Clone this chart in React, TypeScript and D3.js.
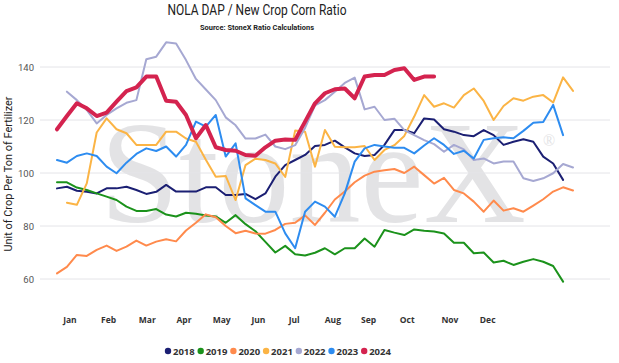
import { scaleLinear, line as d3_line, curveLinear } from "d3";

// weekly observations, index = week of the year (null = no reading yet)
const s2018 = [94.2, 94.8, 93.3, 92.9, 92.3, 94.2, 94.2, 94.8, 93.6, 92.1, 92.9, 95.5, 93, 93, 93, 94.6, 94.6, 91.7, 91.7, 92.1, 90.1, 92.3, 98.6, 103, 104.9, 106.8, 110.2, 110.6, 112.2, 109.7, 107.4, 106.4, 106.8, 110.6, 116.2, 116.2, 115, 120.6, 120.2, 116.5, 115.6, 114.3, 113.9, 116.2, 114.3, 110.6, 111.8, 112.7, 111.8, 106.2, 103.6, 97.4];
const s2019 = [96.5, 96.5, 94.5, 93.6, 92.3, 91.1, 89.8, 87.3, 85.7, 85.7, 86.4, 84.3, 83.6, 85, 84.6, 84, 83.6, 81.2, 84.1, 80.7, 78, 74, 70, 72.5, 69.3, 68.9, 69.9, 71.6, 69.3, 71.6, 71.6, 75.3, 72.2, 78.5, 77.5, 76.6, 78.7, 78.2, 77.9, 77.2, 73.7, 73.7, 69.7, 70, 66.2, 66.9, 65.3, 66.5, 67.5, 66.5, 64.9, 59];
const s2020 = [62.1, 64.6, 69.1, 68.7, 71, 72.6, 70.6, 72.2, 74.5, 72.6, 74.1, 75, 74.2, 78.3, 81.2, 84.4, 83.3, 80, 77.3, 78.2, 77.2, 77.1, 78.5, 80.8, 81.2, 84, 80.4, 85, 90, 93, 96.5, 99, 100.5, 101, 101.5, 100, 102.4, 99.2, 96, 98.2, 93.6, 92.3, 89.2, 85.4, 89.6, 85.8, 86.7, 85.4, 87.7, 90.1, 93, 94.6, 93.4];
const s2021 = [null, 88.8, 88, 96.1, 115.3, 120.6, 116.5, 115, 110.6, 110.6, 110.6, 115.6, 115.6, 113, 111.8, 105, 98.6, 98.9, 89.8, 103, 105.4, 104.9, 103.6, 98.5, 116, 115.6, 102.4, 116.2, 109.9, 109.7, 109.7, 110.2, 104.9, 108.7, 110.5, 114, 121.3, 129.4, 125, 126.3, 124.7, 129.4, 131.9, 127.2, 120, 125.3, 128.2, 127.3, 128.8, 129.4, 126.6, 136.1, 131];
const s2022 = [null, 130.7, 127.5, 123.8, 118.7, 121.9, 124.4, 126.5, 127.5, 142.9, 143.9, 149.3, 148.9, 142.6, 135.5, 131.5, 127.5, 121, 118, 113, 113, 114.5, 110, 109, 110.5, 117, 125.5, 127.5, 130.7, 134, 136, 124, 125, 120, 120.5, 116.2, 114.3, 112.4, 110.9, 108, 110.6, 108.9, 104.9, 105.5, 103.6, 104.3, 104.3, 98, 97, 98, 99.9, 103.4, 102.1];
const s2023 = [104.9, 103.9, 106.4, 107.4, 106.4, 102.4, 99.9, 103.9, 107.2, 109.3, 108.3, 110, 106.2, 110.6, 119.4, 117.5, 121.9, 106.2, 111.2, 90.4, 87.9, 85.4, 85.4, 77.2, 71.6, 85.4, 89.2, 87.3, 83.5, 92.3, 104.3, 109.3, 110.6, 110, 109.5, 109.5, 107.4, 110.4, 113.1, 110.6, 107.2, 108.4, 105.5, 112.5, 113.1, 113.5, 113.1, 115.9, 119, 119.2, 125.7, 114.3];
const s2024 = [116.5, 121.5, 126.3, 124.4, 121.5, 122.8, 126.9, 130.9, 132.3, 136.4, 136.4, 127.3, 126.9, 121.9, 113.1, 118.1, 109.7, 108.7, 108.4, 106.8, 106.5, 109.7, 112.2, 112.6, 112.5, 119.4, 126.3, 130.1, 131.6, 131.9, 128.2, 136.4, 137, 137, 138.9, 139.5, 135.1, 136.4, 136.4];

const years = ["2018", "2019", "2020", "2021", "2022", "2023", "2024"];
const colors = ["#1b1f73", "#1b921b", "#ff8a4c", "#fbb445", "#a6a8d2", "#2d8cf0", "#d4234f"];
const seriesValues = [s2018, s2019, s2020, s2021, s2022, s2023, s2024];

const yTicks = [60, 80, 100, 120, 140];
const months = ["Jan", "Feb", "Mar", "Apr", "May", "Jun", "Jul", "Aug", "Sep", "Oct", "Nov", "Dec"];
const monthWeeks = [1.3, 5.2, 9.1, 12.8, 16.6, 20.3, 23.9, 27.8, 31.4, 35.3, 39.6, 43.4];

const W = 619;
const H = 363;

export default function App() {
  const x = scaleLinear().domain([0, 52]).range([57, 573]);
  const y = scaleLinear().domain([60, 140]).range([279, 67]);

  const line = d3_line<number | null>()
    .defined((d) => d != null)
    .x((_, i) => x(i))
    .y((d) => y(d as number))
    .curve(curveLinear);

  const legendStart = 168;
  const legendStep = 32.7;

  return (
    <div style={{ position: "absolute", left: 0, top: 0 }}>
      <svg width={W} height={H} style={{ display: "block", background: "#fff" }}>
        {/* Title */}
        <text x={257} y={15} textAnchor="middle" fontFamily="Roboto, sans-serif" fontSize={14}
          textLength={179} lengthAdjust="spacingAndGlyphs" fill="#222">
          NOLA DAP / New Crop Corn Ratio
        </text>
        <text x={257} y={30} textAnchor="middle" fontFamily="Roboto, sans-serif" fontSize={7.5}
          fontWeight="bold" textLength={114} lengthAdjust="spacingAndGlyphs" fill="#222">
          Source: StoneX Ratio Calculations
        </text>

        {/* Watermark */}
        <text x={100} y={222} fontFamily="'Liberation Serif', serif" fontSize={146}
          textLength={426} lengthAdjust="spacingAndGlyphs" fill="#e3e3e5">
          StoneX
        </text>
        <text x={549} y={146} textAnchor="middle" fontFamily="'Liberation Serif', serif" fontSize={16}
          fill="#e3e3e5">
          ®
        </text>

        {/* Grid + y ticks */}
        {yTicks.map((t) => (
          <g key={t}>
            <line x1={40} x2={610} y1={y(t)} y2={y(t)} stroke="#e4e4e8" strokeWidth={1} />
            <text x={34} y={y(t) + 3.5} textAnchor="end" fontFamily="Roboto, sans-serif" fontSize={9.5} fill="#555">
              {t}
            </text>
          </g>
        ))}

        {/* Y title */}
        <text transform={`translate(12,174) rotate(-90)`} textAnchor="middle" fontFamily="Roboto, sans-serif"
          fontSize={10.5} textLength={155} lengthAdjust="spacingAndGlyphs" fill="#222">
          Unit of Crop Per Ton of Fertilizer
        </text>

        {/* Lines */}
        {seriesValues.map((vals, k) => (
          <path key={years[k]} d={line(vals) ?? ""} fill="none" stroke={colors[k]}
            strokeWidth={years[k] === "2024" ? 4 : 2} strokeLinejoin="round" strokeLinecap="round" />
        ))}

        {/* X labels */}
        {months.map((m, i) => (
          <text key={m} x={x(monthWeeks[i])} y={323} textAnchor="middle" fontFamily="'Open Sans', sans-serif"
            fontSize={8.5} fontWeight="bold" fill="#333">
            {m}
          </text>
        ))}

        {/* Legend */}
        {years.map((yr, k) => {
          const cx = legendStart + k * legendStep;
          return (
            <g key={yr}>
              <circle cx={cx} cy={351} r={3.2} fill={colors[k]} />
              <text x={cx + 5} y={354.5} fontFamily="'Open Sans', sans-serif" fontSize={9.5} fontWeight="bold" fill="#333">
                {yr}
              </text>
            </g>
          );
        })}
      </svg>
    </div>
  );
}
